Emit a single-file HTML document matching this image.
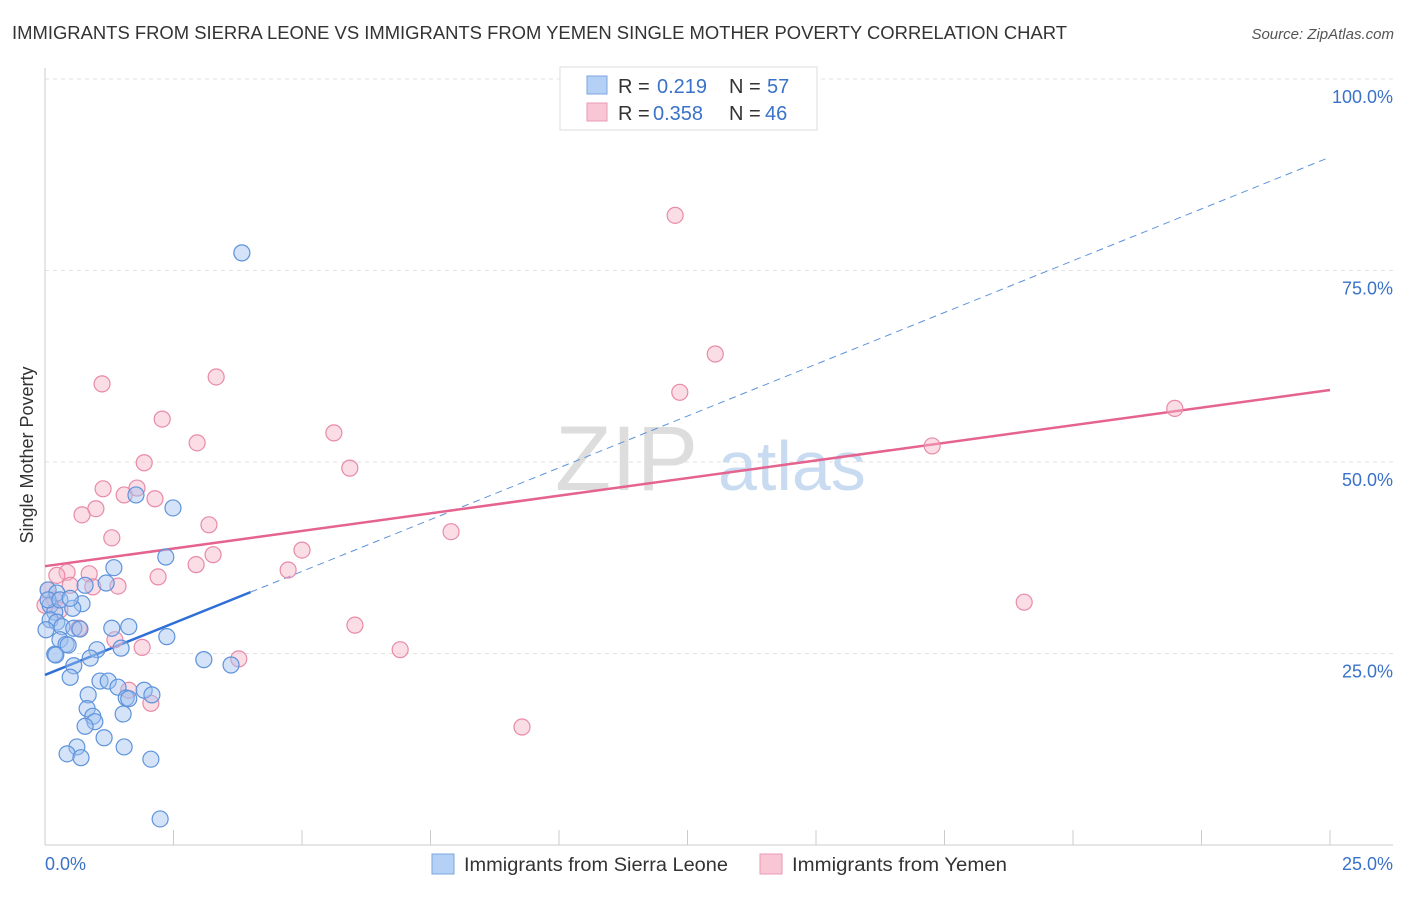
<!DOCTYPE html>
<html><head><meta charset="utf-8"><style>
body{margin:0;background:#fff;font-family:"Liberation Sans",sans-serif;}
svg text{font-family:"Liberation Sans",sans-serif;}
</style></head><body>
<svg id="chart" width="1406" height="892" xmlns="http://www.w3.org/2000/svg">
<text x="12" y="39" font-size="18" fill="#333" textLength="1055" lengthAdjust="spacingAndGlyphs">IMMIGRANTS FROM SIERRA LEONE VS IMMIGRANTS FROM YEMEN SINGLE MOTHER POVERTY CORRELATION CHART</text>
<text x="1394" y="39" font-size="15" fill="#555" text-anchor="end" font-style="italic">Source: ZipAtlas.com</text>
<text x="33" y="455" font-size="18" fill="#333" text-anchor="middle" transform="rotate(-90 33 455)">Single Mother Poverty</text>
<g id="grid"></g>
<g><text x="555" y="490" font-size="92" fill="#ddd" font-family="Liberation Serif">ZIP</text><text x="718" y="490" font-size="70" fill="#c9dbf0">atlas</text></g>
<g id="axes"></g>
<g id="trend"></g>
<g id="pts"></g>
<g>
<rect x="560" y="67" width="257" height="63" fill="#fff" stroke="#ddd"/>
<rect x="587" y="76" width="20" height="18" fill="#b5d0f5" stroke="#7aa6e0"/>
<rect x="587" y="103" width="20" height="18" fill="#f9c6d5" stroke="#eb9ab5"/>
<text x="618" y="93" font-size="20" fill="#333">R = <tspan x="657" fill="#3a72c9">0.219</tspan><tspan x="729">N = </tspan><tspan x="767" fill="#3a72c9">57</tspan></text>
<text x="618" y="120" font-size="20" fill="#333">R = <tspan x="653" fill="#3a72c9">0.358</tspan><tspan x="729">N = </tspan><tspan x="765" fill="#3a72c9">46</tspan></text>
</g>
<g>
<rect x="432" y="854" width="22" height="20" fill="#b5d0f5" stroke="#7aa6e0"/>
<text x="464" y="871" font-size="19" fill="#333" textLength="264" lengthAdjust="spacingAndGlyphs">Immigrants from Sierra Leone</text>
<rect x="760" y="854" width="22" height="20" fill="#f9c6d5" stroke="#eb9ab5"/>
<text x="792" y="871" font-size="19" fill="#333" textLength="215" lengthAdjust="spacingAndGlyphs">Immigrants from Yemen</text>
</g>
</svg>
<script>
const blueX=[3.83,1.77,2.49,2.35,1.34,0.06,0.23,0.72,0.54,0.10,0.19,0.10,0.23,0.33,0.56,0.68,1.30,1.63,2.37,0.29,0.41,0.45,1.01,0.88,0.19,3.09,3.62,0.56,0.49,1.07,1.23,1.42,1.93,2.08,0.84,1.58,1.63,0.82,0.93,0.97,0.78,1.52,1.15,1.54,0.62,0.43,0.70,2.06,2.24,1.19,0.78,1.48,0.06,0.29,0.02,0.21,0.49];
const blueY=[77.3,45.7,44.0,37.6,36.2,33.3,32.9,31.5,30.9,31.3,30.4,29.4,29.1,28.5,28.3,28.2,28.3,28.5,27.2,26.8,26.2,26.1,25.5,24.4,24.9,24.2,23.5,23.4,21.9,21.4,21.4,20.6,20.2,19.6,19.6,19.2,19.1,17.8,16.8,16.1,15.5,17.1,14.0,12.8,12.8,11.9,11.4,11.2,3.4,34.2,33.9,25.7,32.0,32.0,28.1,24.8,32.2];
const pinkX=[12.26,13.04,12.35,3.33,1.11,2.28,5.62,2.96,1.93,5.93,17.26,21.98,1.13,1.54,1.79,2.14,0.99,0.72,3.19,7.90,1.30,3.27,5.00,2.94,4.73,2.20,0.86,0.43,0.23,0.49,1.42,0.93,19.05,6.03,0.66,6.91,3.77,1.89,1.63,2.06,9.28,0.06,0.19,0.29,0.0,1.36];
const pinkY=[82.2,64.1,59.1,61.1,60.2,55.6,53.8,52.5,49.9,49.2,52.1,57.0,46.5,45.7,46.6,45.2,43.9,43.1,41.8,40.9,40.1,37.9,38.5,36.6,35.9,35.0,35.4,35.6,35.2,33.9,33.8,33.7,31.7,28.7,28.3,25.5,24.3,25.8,20.2,18.5,15.4,33.3,32.0,30.7,31.3,26.8];
const yTicks=[25,50,75,100];
const yTickLabels=["25.0%","50.0%","75.0%","100.0%"];
const xTicks=[0,2.5,5,7.5,10,12.5,15,17.5,20,22.5,25];
const blueTrend=[22.2,89.8];
const pinkTrend=[36.4,59.4];
const NS="http://www.w3.org/2000/svg";
const X=v=>45+v*51.4, Y=v=>845-v*7.66;
function mk(t,a,p){const e=document.createElementNS(NS,t);for(const k in a)e.setAttribute(k,a[k]);p.appendChild(e);return e;}
const grid=document.getElementById('grid'),axes=document.getElementById('axes'),tr=document.getElementById('trend'),pts=document.getElementById('pts');
yTicks.forEach((t,i)=>{
 const l=mk('line',{x1:45,x2:1393,y1:Y(t),y2:Y(t),stroke:'#e2e2e2','stroke-dasharray':'4,4'},grid);
 
 
 const tx=mk('text',{x:1393,y:Y(t)+24,'font-size':18,fill:'#3a72c9','text-anchor':'end'},axes);tx.textContent=yTickLabels[i];
 
 
});
mk('line',{x1:45,x2:1393,y1:845,y2:845,stroke:'#ccc'},axes);
mk('line',{x1:45,x2:45,y1:68,y2:845,stroke:'#ccc'},axes);
xTicks.forEach(t=>{const l=mk('line',{x1:X(t),x2:X(t),y1:830,y2:845,stroke:'#ccc'},axes);
 
 });
let a=mk('text',{x:45,y:870,'font-size':18,fill:'#3a72c9'},axes);a.textContent='0.0%';


a=mk('text',{x:1393,y:870,'font-size':18,fill:'#3a72c9','text-anchor':'end'},axes);a.textContent='25.0%';


function dot(x,y,f,s,n){const c=mk('circle',{cx:X(x),cy:Y(y),r:8,fill:f,'fill-opacity':0.45,stroke:s,'stroke-width':1.2},pts);
 
 }
pinkX.forEach((x,i)=>dot(x,pinkY[i],'#f7b3c8','#e88aa8','yemen-point'));
blueX.forEach((x,i)=>dot(x,blueY[i],'#9fc2ef','#5e93dc','sierra-leone-point'));
const bAt=v=>blueTrend[0]+(blueTrend[1]-blueTrend[0])*v/25;
let l=mk('line',{x1:X(0),y1:Y(bAt(0)),x2:X(4),y2:Y(bAt(4)),stroke:'#2f6fd6','stroke-width':2.5},tr);


l=mk('line',{x1:X(4),y1:Y(bAt(4)),x2:X(25),y2:Y(bAt(25)),stroke:'#5e93dc','stroke-width':1,'stroke-dasharray':'7,5'},tr);


l=mk('line',{x1:X(0),y1:Y(pinkTrend[0]),x2:X(25),y2:Y(pinkTrend[1]),stroke:'#e5638f','stroke-width':2.5},tr);


</script>
</body></html>
